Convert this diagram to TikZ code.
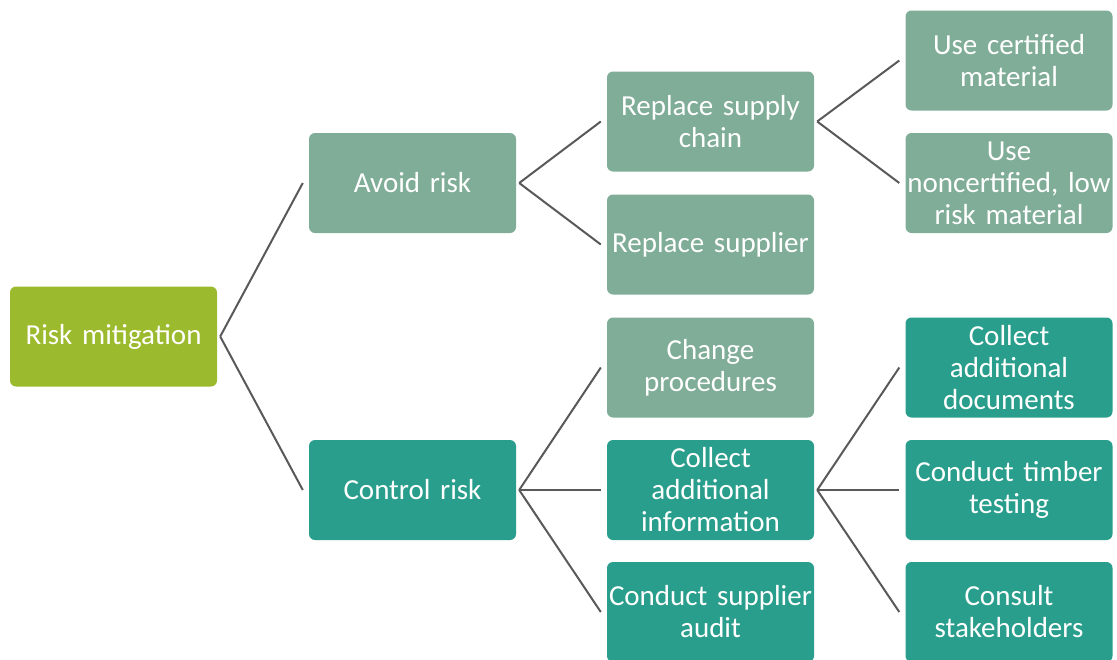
\documentclass[tikz,border=0pt]{standalone}
\usepackage{fontspec}
\setmainfont{Carlito}
\usetikzlibrary{calc}
\definecolor{olivebox}{HTML}{9CBA2E}
\definecolor{sagebox}{HTML}{80AD97}
\definecolor{tealbox}{HTML}{2A9E8C}
\definecolor{linegray}{HTML}{595959}
\tikzset{
  box/.style={rounded corners=6pt, minimum width=207pt, minimum height=100pt, text width=205pt, align=center, text=white, inner sep=0pt, font=\fontsize{29}{32}\selectfont},
  olive/.style={box, fill=olivebox},
  sage/.style={box, fill=sagebox},
  teal/.style={box, fill=tealbox},
  conn/.style={draw=linegray, line width=2pt}
}
\newcommand{\linkto}[2]{\draw[conn] ($(#1.east)+(3,0)$) -- ($(#2.west)-(6,0)$);}
\begin{document}
\begin{tikzpicture}[x=1pt,y=-1pt]
\useasboundingbox (0,0) rectangle (1117,659);
\node[olive] (rm) at (113.5,336.5) {Risk mitigation};
\node[sage] (avoid) at (412.5,183) {Avoid risk};
\node[teal] (control) at (412.5,490) {Control risk};
\node[sage] (rsc) at (710.5,121.5) {Replace supply\\chain};
\node[sage] (rs) at (710.5,244.5) {Replace supplier};
\node[sage] (cp) at (710.5,367.5) {Change\\procedures};
\node[teal] (cai) at (710.5,490) {Collect\\additional\\information};
\node[teal] (csa) at (710.5,612) {Conduct supplier\\audit};
\node[sage] (ucm) at (1009,60.5) {Use certified\\material};
\node[sage] (unm) at (1009,183) {Use\\noncertified, low\\risk material};
\node[teal] (cad) at (1009,367.5) {Collect\\additional\\documents};
\node[teal] (ctt) at (1009,490) {Conduct timber\\testing};
\node[teal] (cs) at (1009,612) {Consult\\stakeholders};
\linkto{rm}{avoid}
\linkto{rm}{control}
\linkto{avoid}{rsc}
\linkto{avoid}{rs}
\linkto{rsc}{ucm}
\linkto{rsc}{unm}
\linkto{control}{cp}
\linkto{control}{cai}
\linkto{control}{csa}
\linkto{cai}{cad}
\linkto{cai}{ctt}
\linkto{cai}{cs}
\end{tikzpicture}
\end{document}
